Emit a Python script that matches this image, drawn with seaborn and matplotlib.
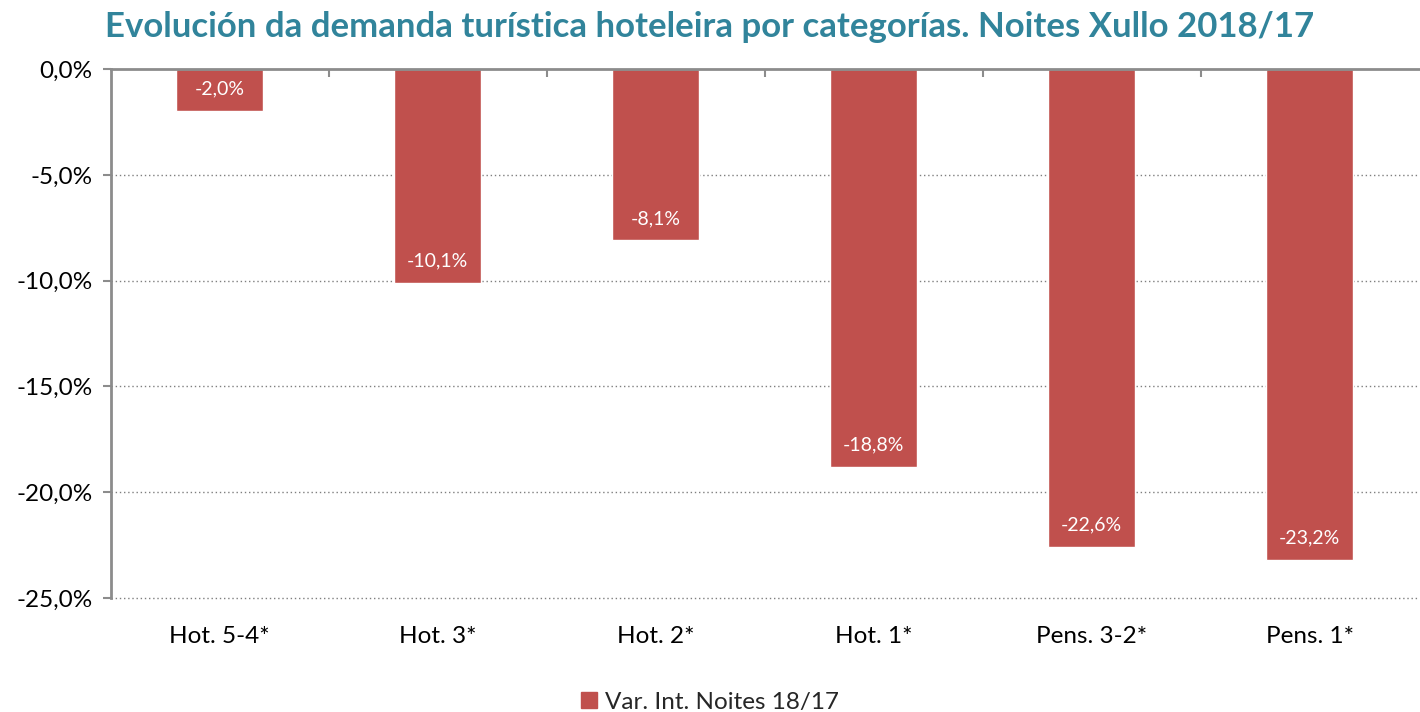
import matplotlib.pyplot as plt
import numpy as np
import seaborn as sns
import pandas as pd
from matplotlib.ticker import FixedLocator, FuncFormatter

categories = ['Hot. 5-4*', 'Hot. 3*', 'Hot. 2*', 'Hot. 1*', 'Pens. 3-2*', 'Pens. 1*']
variation = [-2.0, -10.1, -8.1, -18.8, -22.6, -23.2]
series_name = 'Var. Int. Noites 18/17'
title = 'Evolución da demanda turística hoteleira por categorías. Noites Xullo 2018/17'
y_ticks = [0, -5, -10, -15, -20, -25]

sns.set_theme(style='white')
plt.rcParams['font.family'] = ['Lato', 'DejaVu Sans']

df = pd.DataFrame({'categoria': categories, 'valor': variation, 'serie': series_name})

bar_color = '#C0504D'
axis_gray = '#8C8C8C'

fig = plt.figure(figsize=(14.2, 7.12), dpi=100)
ax = fig.add_axes([0.078, 0.160, 0.921, 0.743])

sns.barplot(data=df, x='categoria', y='valor', hue='serie', palette=[bar_color],
            width=0.4, ax=ax, legend=False, saturation=1)

ax.set_xlim(-0.5, len(categories) - 0.5)
ax.set_ylim(-25, 0)
ax.yaxis.set_major_locator(FixedLocator(y_ticks))
ax.yaxis.set_major_formatter(FuncFormatter(lambda v, p: f'{v:.1f}%'.replace('.', ',')))
ax.tick_params(axis='y', labelsize=17.5, colors='black', length=6, width=1.5,
               color=axis_gray, left=True, pad=7)

for y in y_ticks[1:]:
    ax.axhline(y, color='#7F7F7F', linestyle=(0, (1, 2)), linewidth=1, zorder=0,
               clip_on=False)

# category labels below, boundary ticks on the top (zero) axis
ax.tick_params(axis='x', labelsize=17.5, colors='black', bottom=False, top=False, pad=14)
ax.set_xticks(range(len(categories)))
ax.set_xticklabels(categories)
ax.set_xticks(np.arange(0.5, len(categories) - 0.5, 1), minor=True)
ax.tick_params(axis='x', which='minor', top=True, bottom=False, direction='in',
               length=6, width=1.5, color=axis_gray)

for side in ['right', 'bottom']:
    ax.spines[side].set_visible(False)
for side in ['left', 'top']:
    ax.spines[side].set_color(axis_gray)
    ax.spines[side].set_linewidth(2)

ax.set_xlabel('')
ax.set_ylabel('')

for container in ax.containers:
    labels = [f'{v:.1f}%'.replace('.', ',') for v in variation]
    ax.bar_label(container, labels=labels, label_type='edge', padding=-22,
                 color='white', fontsize=14)

handle = plt.Rectangle((0, 0), 1, 1, color=bar_color)
fig.legend([handle], [series_name], loc='lower center', bbox_to_anchor=(0.5, -0.032),
           frameon=False, fontsize=17.5, handlelength=0.65, handleheight=0.65,
           handletextpad=0.3)

fig.text(0.5, 0.962, title, ha='center', va='center', fontsize=25,
         fontweight='bold', color='#31849B')

plt.savefig('out.png', dpi=100)
